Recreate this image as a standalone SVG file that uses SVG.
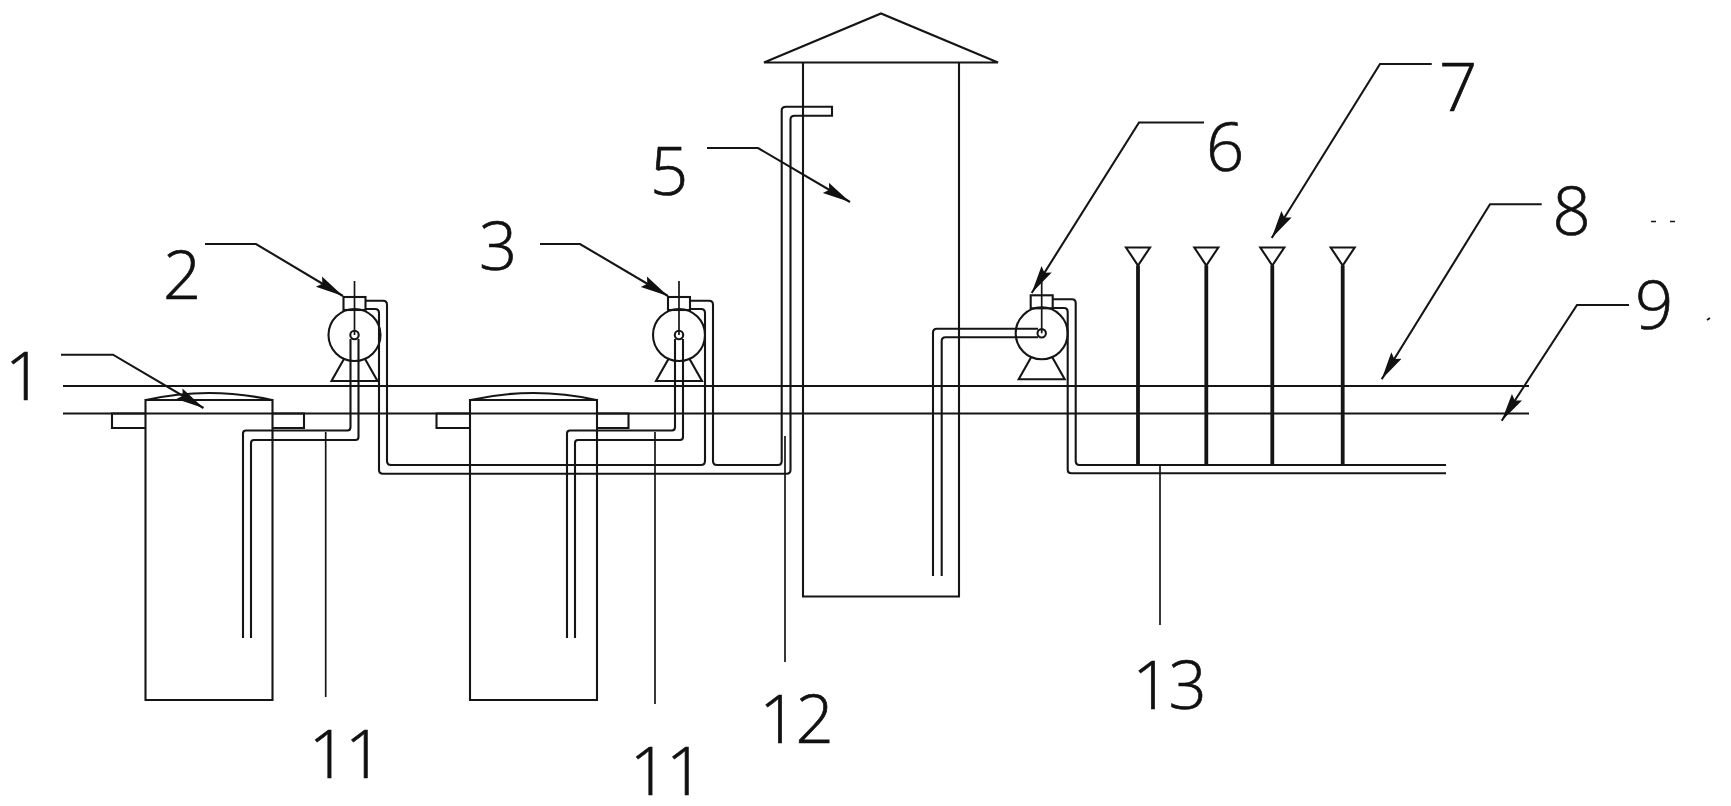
<svg xmlns="http://www.w3.org/2000/svg" width="1731" height="806" viewBox="0 0 1731 806">
<style>
.l{fill:none;stroke:#151515;stroke-width:2.1}
.t{fill:none;stroke:#151515;stroke-width:1.7}
.s{fill:none;stroke:#151515;stroke-width:3.8}
.a{marker-end:url(#arrow)}
text{font-family:"Open Sans","Noto Sans","Liberation Sans",sans-serif;font-size:67px;font-weight:300;fill:#111;stroke:#111;stroke-width:.7;text-anchor:middle}
.n{letter-spacing:-2px}
</style>
<defs>
<marker id="arrow" markerUnits="userSpaceOnUse" markerWidth="30" markerHeight="14" viewBox="0 0 30 14" refX="29" refY="7" orient="auto">
<path d="M29,7 L1,1 L5,7 L1,13 Z" fill="#111"/>
</marker>
<g id="pumpShape">
<circle class="l" cx="0" cy="0" r="26"/>
<circle class="l" cx="0" cy="0" r="4.200"/>
<rect class="l" x="-11" y="-38" width="22" height="13"/>
<path class="t" d="M0,-54V0"/>
<path class="l" d="M-10,23L-23,46H23L10,23"/>
</g>
<g id="sprinklerShape">
<path class="l" d="M-12,0H12L0,18Z"/>
<path class="s" d="M0,18V218"/>
</g>
</defs>
<rect width="1731" height="806" fill="#fff"/>
<g id="ground">
<path class="l" d="M63,386H1529"/>
<path class="l" d="M63,413.500H1529"/>
</g>
<g id="tank-1">
<path class="l" d="M145.500,700V400H272.500V700Z"/>
<path class="l" d="M146,400Q209,386 272,400"/>
<path class="l" d="M145.500,413.500H112V428H145.500M272.500,413.500H304V428H272.500"/>
</g>
<g id="tank-2">
<path class="l" d="M470,700V400H597V700Z"/>
<path class="l" d="M470.500,400Q533.500,386 596.500,400"/>
<path class="l" d="M470,413.500H436.500V428H470M597,413.500H628.500V428H597"/>
</g>
<g id="pump-2"><use href="#pumpShape" x="354.500" y="335"/></g>
<g id="pump-3"><use href="#pumpShape" x="679" y="335"/></g>
<g id="tower">
<path class="l" d="M764,62.500L881,13.500L998,62.500Z"/>
<path class="l" d="M803,62.500V596.500H959V62.500"/>
</g>
<g id="pump-6"><use href="#pumpShape" x="1041.700" y="333.300"/></g>
<g id="sprinkler-1"><use href="#sprinklerShape" x="1138" y="247.500"/></g>
<g id="sprinkler-2"><use href="#sprinklerShape" x="1206.300" y="247.500"/></g>
<g id="sprinkler-3"><use href="#sprinklerShape" x="1272.300" y="247.500"/></g>
<g id="sprinkler-4"><use href="#sprinklerShape" x="1342.700" y="247.500"/></g>
<g id="connectors">
<path class="l" d="M350.500,339V427Q350.500,430.500 347.500,430.500H246Q243,430.500 243,433.500V638"/>
<path class="l" d="M358.500,339V437Q358.500,440 355.500,440H254Q251,440 251,443V638"/>
<path class="l" d="M675,339V427Q675,430.500 672,430.500H570Q567,430.500 567,433.500V638"/>
<path class="l" d="M683,339V437Q683,440 680,440H578Q575,440 575,443V638"/>
<path class="l" d="M365.500,300.700H383Q387,300.700 387,304.700V461Q387,465 391,465H701Q705,465 705,461V313Q705,309 701,309H690"/>
<path class="l" d="M365.500,309H375Q379,309 379,313V470Q379,473.700 383,473.700H786.500Q790.500,473.700 790.500,470V119.500Q790.500,115.700 794.500,115.700H832V106.700H786Q781.700,106.700 781.700,110.500V461Q781.700,465 778,465H717Q713,465 713,461V304.500Q713,300.700 709,300.700H690"/>
<path class="l" d="M1038,328.700H937Q933,328.700 933,332.700V576"/>
<path class="l" d="M1038,337.300H945.500Q941.700,337.300 941.700,341V576"/>
<path class="l" d="M1052.700,299.300H1072Q1075.700,299.300 1075.700,303V461Q1075.700,465 1079.500,465H1446"/>
<path class="l" d="M1052.700,308H1064Q1067.700,308 1067.700,312V469.500Q1067.700,473.300 1071.500,473.300H1446"/>
<path class="t" d="M325.700,432V697"/>
<path class="t" d="M655,432V704"/>
<path class="t" d="M785,436V662"/>
<path class="t" d="M1160,465V625"/>
<path class="l a" d="M61,354.700H113L203.500,408"/>
<path class="l a" d="M205,244H256L343,296"/>
<path class="l a" d="M540,244H580L668,296"/>
<path class="l a" d="M707,148H758L850,202"/>
<path class="l a" d="M1204,122.500H1139L1031.700,293"/>
<path class="l a" d="M1431.700,64H1380L1271.700,238"/>
<path class="l a" d="M1541.700,204.300H1490L1381.700,379.300"/>
<path class="l a" d="M1629,305H1577L1501.700,420.700"/>
</g>
<g id="specks">
<path class="t" d="M1651,221.500H1656M1670,221.500H1675M1707,320L1710,318"/>
</g>
<g id="labels">
<text x="24" y="400">1</text>
<text x="182" y="299">2</text>
<text x="498" y="270">3</text>
<text x="669" y="195">5</text>
<text x="1225" y="171">6</text>
<text x="1458" y="110.500">7</text>
<text x="1571.500" y="235">8</text>
<text x="1654" y="329">9</text>
<text class="n" x="345" y="778">11</text>
<text class="n" x="666" y="795">11</text>
<text class="n" x="795.500" y="743">12</text>
<text class="n" x="1168.500" y="709">13</text>
</g>
</svg>
